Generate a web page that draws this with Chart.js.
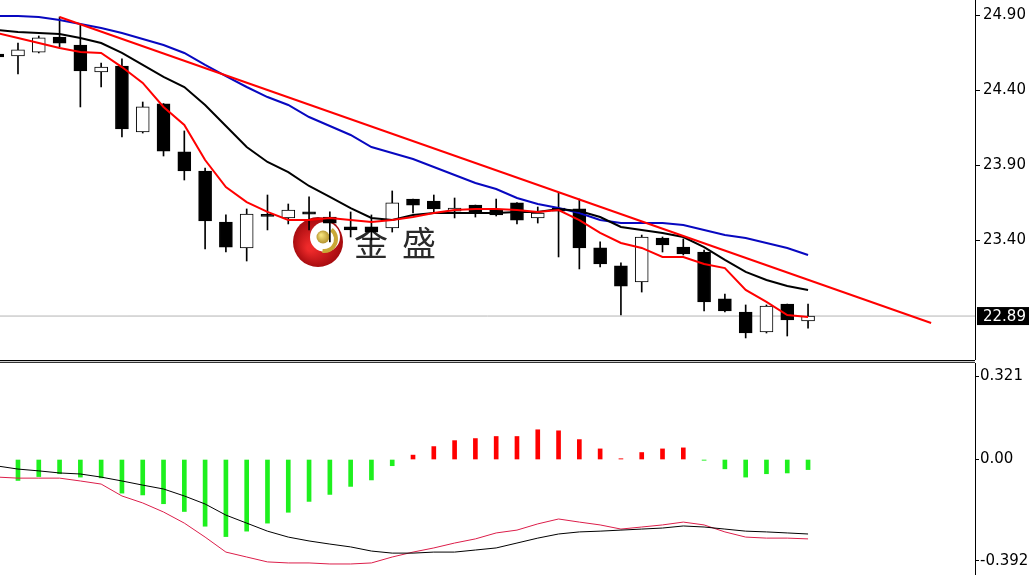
<!DOCTYPE html>
<html>
<head>
<meta charset="utf-8">
<script src="https://cdn.jsdelivr.net/npm/chart.js@4.4.1/dist/chart.umd.min.js"></script>
<style>
  html, body { margin: 0; padding: 0; background: #fff; }
  body { width: 1029px; height: 575px; position: relative; overflow: hidden; }
  #priceChart { position: absolute; left: 0; top: 0; }
  #macdChart { position: absolute; left: 0; top: 363px; }
  .sep { position: absolute; left: 0; width: 975px; height: 1px; }
</style>
</head>
<body>
<canvas id="priceChart" width="1029" height="360"></canvas>
<div class="sep" style="top:360px;background:#000"></div>
<div class="sep" style="top:361px;background:#ccc"></div>
<div class="sep" style="top:362px;background:#333"></div>
<canvas id="macdChart" width="1029" height="212"></canvas>
<script>
// Candles (bar index 0 sits just off the left edge)
const opens  = [24.64, 24.627, 24.653, 24.753, 24.70, 24.52, 24.56, 24.12, 24.307, 23.987, 23.86, 23.52, 23.347, 23.56, 23.547, 23.587, 23.553, 23.487, 23.487, 23.48, 23.673, 23.66, 23.593, 23.633, 23.60, 23.647, 23.547, 23.613, 23.607, 23.347, 23.227, 23.12, 23.413, 23.353, 23.32, 23.007, 22.92, 22.787, 22.973, 22.86];
const highs  = [24.66, 24.713, 24.76, 24.887, 24.833, 24.58, 24.607, 24.32, 24.31, 24.127, 23.88, 23.567, 23.607, 23.70, 23.64, 23.687, 23.587, 23.587, 23.567, 23.727, 23.673, 23.70, 23.68, 23.633, 23.673, 23.65, 23.62, 23.713, 23.673, 23.387, 23.247, 23.433, 23.42, 23.407, 23.333, 23.04, 22.967, 22.967, 22.973, 22.973];
const lows   = [24.60, 24.507, 24.647, 24.687, 24.287, 24.42, 24.087, 24.113, 23.96, 23.80, 23.34, 23.32, 23.26, 23.467, 23.507, 23.467, 23.387, 23.42, 23.40, 23.453, 23.58, 23.58, 23.547, 23.553, 23.56, 23.507, 23.513, 23.287, 23.207, 23.22, 22.90, 23.053, 23.32, 23.30, 22.927, 22.92, 22.747, 22.78, 22.76, 22.813];
const closes = [24.62, 24.667, 24.747, 24.713, 24.527, 24.553, 24.14, 24.287, 23.993, 23.86, 23.527, 23.353, 23.573, 23.558, 23.60, 23.573, 23.513, 23.467, 23.453, 23.647, 23.633, 23.607, 23.613, 23.58, 23.567, 23.533, 23.58, 23.593, 23.347, 23.24, 23.093, 23.42, 23.367, 23.307, 22.987, 22.927, 22.78, 22.96, 22.867, 22.893];

// Moving averages
const maFast = [24.78, 24.747, 24.713, 24.68, 24.653, 24.647, 24.553, 24.447, 24.287, 24.167, 23.933, 23.753, 23.653, 23.587, 23.533, 23.533, 23.547, 23.533, 23.52, 23.533, 23.553, 23.58, 23.60, 23.607, 23.607, 23.60, 23.587, 23.60, 23.533, 23.447, 23.38, 23.347, 23.287, 23.287, 23.24, 23.213, 23.067, 22.987, 22.90, 22.887];
const maMid  = [24.80, 24.787, 24.78, 24.773, 24.747, 24.713, 24.647, 24.567, 24.487, 24.42, 24.30, 24.16, 24.02, 23.92, 23.853, 23.76, 23.687, 23.613, 23.547, 23.533, 23.567, 23.58, 23.58, 23.58, 23.58, 23.587, 23.587, 23.607, 23.593, 23.553, 23.487, 23.467, 23.447, 23.42, 23.353, 23.267, 23.187, 23.133, 23.093, 23.067];
const maSlow = [24.893, 24.893, 24.887, 24.867, 24.84, 24.813, 24.78, 24.74, 24.70, 24.647, 24.567, 24.493, 24.42, 24.353, 24.30, 24.22, 24.16, 24.10, 24.02, 23.98, 23.94, 23.887, 23.833, 23.78, 23.74, 23.68, 23.64, 23.613, 23.58, 23.533, 23.513, 23.513, 23.513, 23.50, 23.467, 23.433, 23.413, 23.38, 23.347, 23.30];

// Trend line (bar index, price)
const trendX = [3, 44.92];
const trendY = [24.887, 22.847];

// MACD panel
const macdHist  = [-0.08, -0.081, -0.066, -0.055, -0.068, -0.071, -0.13, -0.137, -0.171, -0.201, -0.258, -0.298, -0.277, -0.246, -0.204, -0.162, -0.135, -0.104, -0.079, -0.024, 0.017, 0.05, 0.073, 0.081, 0.089, 0.089, 0.115, 0.111, 0.077, 0.041, 0.003, 0.027, 0.041, 0.045, -0.003, -0.036, -0.068, -0.055, -0.052, -0.039];
const macdMain  = [-0.025, -0.037, -0.044, -0.052, -0.056, -0.068, -0.083, -0.099, -0.114, -0.141, -0.172, -0.215, -0.246, -0.277, -0.300, -0.315, -0.327, -0.338, -0.354, -0.362, -0.362, -0.358, -0.358, -0.350, -0.342, -0.323, -0.304, -0.288, -0.280, -0.277, -0.273, -0.269, -0.265, -0.257, -0.261, -0.269, -0.277, -0.280, -0.284, -0.288];
const macdSignal = [-0.068, -0.072, -0.072, -0.072, -0.083, -0.095, -0.141, -0.168, -0.203, -0.246, -0.300, -0.358, -0.377, -0.396, -0.400, -0.400, -0.404, -0.404, -0.400, -0.377, -0.358, -0.342, -0.323, -0.307, -0.284, -0.273, -0.249, -0.230, -0.242, -0.253, -0.269, -0.261, -0.253, -0.242, -0.253, -0.280, -0.300, -0.304, -0.304, -0.307];

// Axis ticks
const priceTicks = [23.40, 23.90, 24.40, 24.90];
const macdTicks = [0.321, 0.00, -0.392];
const macdTickLabels = ['0.321', '0.00', '-0.392'];

const X_MIN = 0.135, X_MAX = 47.03;
const FONT = 'DejaVu Sans';
const lastClose = closes[closes.length - 1];
const idx = closes.map((_, i) => i);

function fixAxis(scale) {
    scale.width = 54;
    scale.paddingTop = 0;
    scale.paddingBottom = 0;
}

const xScale = { type: 'linear', display: false, min: X_MIN, max: X_MAX, offset: false };

// Watermark and last price tag
const priceDecor = {
    id: 'priceDecor',
    beforeDatasetsDraw(chart) {
        const ctx = chart.ctx;
        const cx = chart.chartArea.left + 318, cy = chart.chartArea.top + 242;
        ctx.save();
        const g = ctx.createRadialGradient(cx - 8, cy + 6, 3, cx, cy, 26);
        g.addColorStop(0, '#ee2a2a');
        g.addColorStop(1, '#a30a0e');
        ctx.fillStyle = g;
        ctx.beginPath(); ctx.arc(cx, cy, 25, 0, Math.PI * 2); ctx.fill();
        ctx.fillStyle = '#fff';
        ctx.beginPath(); ctx.arc(cx + 7, cy - 5, 15, 0, Math.PI * 2); ctx.fill();
        ctx.strokeStyle = '#c9a836';
        ctx.lineWidth = 4;
        ctx.beginPath(); ctx.arc(cx + 6, cy - 3, 12, -0.9, 1.7); ctx.stroke();
        const gb = ctx.createRadialGradient(cx + 3, cy - 7, 1, cx + 5, cy - 5, 7);
        gb.addColorStop(0, '#f3e07a');
        gb.addColorStop(1, '#b08e28');
        ctx.fillStyle = gb;
        ctx.beginPath(); ctx.arc(cx + 5, cy - 5, 6.5, 0, Math.PI * 2); ctx.fill();

        ctx.fillStyle = '#2a2a2a';
        ctx.font = '34px "Noto Sans CJK SC"';
        ctx.textAlign = 'center';
        ctx.textBaseline = 'middle';
        ctx.fillText('金', cx + 53, cy + 1);
        ctx.fillText('盛', cx + 101, cy + 1);
        ctx.restore();
    },
    afterDraw(chart) {
        const ctx = chart.ctx;
        const y = chart.scales.y.getPixelForValue(lastClose);
        const left = chart.chartArea.right + 2;
        ctx.save();
        ctx.fillStyle = '#000';
        ctx.fillRect(left, y - 9, 60, 18);
        ctx.fillStyle = '#fff';
        ctx.font = '15px "' + FONT + '"';
        ctx.textAlign = 'left';
        ctx.textBaseline = 'middle';
        ctx.fillText(lastClose.toFixed(2), chart.chartArea.right + 8, y + 1);
        ctx.restore();
    }
};

new Chart(document.getElementById('priceChart'), {
    type: 'bar',
    data: {
        datasets: [
            {
                type: 'line',
                data: trendX.map((x, i) => ({ x: x, y: trendY[i] })),
                borderColor: '#ff0000',
                borderWidth: 2,
                pointRadius: 0,
                order: 0
            },
            {
                type: 'line',
                data: idx.map(i => ({ x: i, y: maFast[i] })),
                borderColor: '#ff0000',
                borderWidth: 2,
                pointRadius: 0,
                order: 1
            },
            {
                type: 'line',
                data: idx.map(i => ({ x: i, y: maMid[i] })),
                borderColor: '#000000',
                borderWidth: 2,
                pointRadius: 0,
                order: 2
            },
            {
                type: 'line',
                data: idx.map(i => ({ x: i, y: maSlow[i] })),
                borderColor: '#0808c0',
                borderWidth: 2,
                pointRadius: 0,
                order: 3
            },
            {
                // candle bodies
                type: 'bar',
                data: idx.map(i => ({ x: i, y: [opens[i], closes[i]] })),
                backgroundColor: ctx => {
                    const i = ctx.dataIndex;
                    return closes[i] >= opens[i] ? '#ffffff' : '#000000';
                },
                borderColor: '#000000',
                borderWidth: 1,
                borderSkipped: false,
                barThickness: 13,
                minBarLength: 2,
                grouped: false,
                order: 4
            },
            {
                // wicks
                type: 'bar',
                data: idx.map(i => ({ x: i, y: [lows[i], highs[i]] })),
                backgroundColor: '#000000',
                borderWidth: 0,
                barThickness: 1,
                grouped: false,
                order: 5
            },
            {
                // last price line
                type: 'line',
                data: [{ x: X_MIN, y: lastClose }, { x: X_MAX, y: lastClose }],
                borderColor: '#b4b4b4',
                borderWidth: 1,
                pointRadius: 0,
                order: 6
            }
        ]
    },
    options: {
        responsive: false,
        animation: false,
        devicePixelRatio: 1,
        events: [],
        layout: { padding: 0 },
        plugins: { legend: { display: false }, tooltip: { enabled: false } },
        scales: {
            x: xScale,
            y: {
                type: 'linear',
                position: 'right',
                min: 22.60,
                max: 25.00,
                afterBuildTicks: scale => { scale.ticks = priceTicks.map(v => ({ value: v })); },
                afterFit: fixAxis,
                grid: { drawOnChartArea: false, drawTicks: true, tickLength: 5, color: '#000' },
                border: { display: true, color: '#000', width: 1 },
                ticks: {
                    padding: 3,
                    color: '#000',
                    font: { family: FONT, size: 15 },
                    callback: v => Number(v).toFixed(2)
                }
            }
        }
    },
    plugins: [priceDecor]
});

new Chart(document.getElementById('macdChart'), {
    type: 'bar',
    data: {
        datasets: [
            {
                type: 'line',
                data: idx.map(i => ({ x: i, y: macdMain[i] })),
                borderColor: '#000000',
                borderWidth: 1,
                pointRadius: 0,
                order: 0
            },
            {
                type: 'line',
                data: idx.map(i => ({ x: i, y: macdSignal[i] })),
                borderColor: '#dc1e4a',
                borderWidth: 1,
                pointRadius: 0,
                order: 1
            },
            {
                type: 'bar',
                data: idx.map(i => ({ x: i, y: macdHist[i] })),
                backgroundColor: ctx => macdHist[ctx.dataIndex] >= 0 ? '#ff0000' : '#1ef01e',
                borderWidth: 0,
                barThickness: 4,
                order: 2
            }
        ]
    },
    options: {
        responsive: false,
        animation: false,
        devicePixelRatio: 1,
        events: [],
        layout: { padding: 0 },
        plugins: { legend: { display: false }, tooltip: { enabled: false } },
        scales: {
            x: xScale,
            y: {
                type: 'linear',
                position: 'right',
                min: -0.4466,
                max: 0.3732,
                afterBuildTicks: scale => { scale.ticks = macdTicks.map(v => ({ value: v })); },
                afterFit: fixAxis,
                grid: { drawOnChartArea: false, drawTicks: true, tickLength: 4, color: '#000' },
                border: { display: true, color: '#000', width: 1 },
                ticks: {
                    padding: 1,
                    color: '#000',
                    font: { family: FONT, size: 15 },
                    callback: (v, i) => macdTickLabels[i]
                }
            }
        }
    }
});
</script>
</body>
</html>
